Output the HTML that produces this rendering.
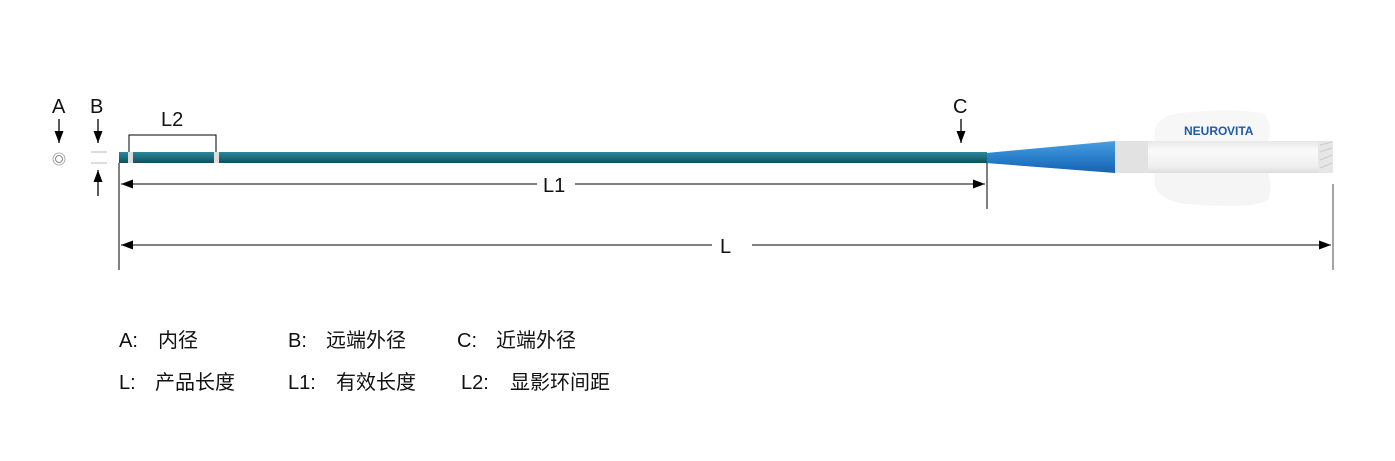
<!DOCTYPE html>
<html><head><meta charset="utf-8"><style>
body{margin:0;background:#fff;}
svg text{font-family:"Liberation Sans","Noto Sans CJK SC",sans-serif;fill:#111;}
</style></head><body>
<svg width="1395" height="456" viewBox="0 0 1395 456" xmlns="http://www.w3.org/2000/svg">
<defs>
<linearGradient id="sh" x1="0" y1="0" x2="0" y2="1">
<stop offset="0" stop-color="#2a8a9a"/><stop offset="0.4" stop-color="#1f7385"/><stop offset="1" stop-color="#0f4f5e"/></linearGradient>
<linearGradient id="bl" x1="0" y1="0" x2="0" y2="1">
<stop offset="0" stop-color="#4a9ee0"/><stop offset="0.5" stop-color="#2a80cc"/><stop offset="1" stop-color="#1a62b0"/></linearGradient>
<linearGradient id="wh" x1="0" y1="0" x2="0" y2="1">
<stop offset="0" stop-color="#e8e8e8"/><stop offset="0.3" stop-color="#fafafa"/><stop offset="0.8" stop-color="#f0f0f0"/><stop offset="1" stop-color="#dcdcdc"/></linearGradient>
<marker id="ar" markerWidth="12" markerHeight="9" refX="12" refY="4.5" orient="auto" markerUnits="userSpaceOnUse"><path d="M0,0 L12,4.5 L0,9 z" fill="#000"/></marker>
</defs>
<text x="52" y="113" font-size="20">A</text>
<text x="90" y="113" font-size="20">B</text>
<line x1="59" y1="119" x2="59" y2="143" stroke="#000" stroke-width="1.3" marker-end="url(#ar)"/>
<line x1="98" y1="119" x2="98" y2="143" stroke="#000" stroke-width="1.3" marker-end="url(#ar)"/>
<line x1="98" y1="196" x2="98" y2="170" stroke="#000" stroke-width="1.3" marker-end="url(#ar)"/>
<circle cx="59" cy="159" r="6" fill="none" stroke="#999" stroke-width="0.8"/>
<circle cx="59" cy="159" r="3.5" fill="none" stroke="#888" stroke-width="1"/>
<line x1="91" y1="152" x2="107" y2="152" stroke="#bbb"/>
<line x1="91" y1="163" x2="107" y2="163" stroke="#bbb"/>
<text x="161" y="126" font-size="20">L2</text>
<path d="M129,153 V135 H216 V153" fill="none" stroke="#000" stroke-width="1"/>
<path d="M1155,141 C1152,125 1160,116 1180,113 C1220,109 1255,110 1265,115 C1272,125 1270,135 1268,141 Z" fill="#f7f7f7"/>
<path d="M1155,173 C1152,190 1160,200 1185,204 C1225,207 1260,207 1268,200 C1272,190 1270,180 1268,173 Z" fill="#f5f5f5"/>
<rect x="1115" y="141" width="218" height="32" fill="url(#wh)"/>
<rect x="1115" y="141" width="33" height="32" fill="#e2e2e2"/>
<path d="M1318,141 L1333,141 L1333,173 L1318,173 Z" fill="#e6e6e6"/>
<path d="M1320,145 L1332,142 M1320,152 L1332,148 M1320,160 L1332,155 M1320,168 L1332,163" stroke="#ccc" stroke-width="1"/>
<text x="1184" y="135" font-size="12" font-weight="bold" style="fill:#1e5aa8">NEURO</text>
<text x="1227" y="135" font-size="12" font-weight="bold" style="fill:#1e5aa8">VITA</text>
<path d="M986,153 L1115,141 L1115,173 L986,163 Z" fill="url(#bl)"/>
<rect x="119" y="152" width="868" height="11" fill="url(#sh)"/>
<rect x="128" y="152" width="5" height="11" fill="#ddd"/>
<rect x="214" y="152" width="5" height="11" fill="#ddd"/>
<text x="953" y="113" font-size="20">C</text>
<line x1="961" y1="119" x2="961" y2="143" stroke="#000" stroke-width="1.3" marker-end="url(#ar)"/>
<line x1="119" y1="163" x2="119" y2="270" stroke="#000" stroke-width="1"/>
<line x1="987" y1="163" x2="987" y2="209" stroke="#000" stroke-width="1"/>
<line x1="1333" y1="184" x2="1333" y2="270" stroke="#666" stroke-width="1.2"/>
<line x1="537" y1="184" x2="121" y2="184" stroke="#000" stroke-width="1" marker-end="url(#ar)"/>
<line x1="575" y1="184" x2="985" y2="184" stroke="#000" stroke-width="1" marker-end="url(#ar)"/>
<text x="543" y="192" font-size="20">L1</text>
<line x1="712" y1="245" x2="121" y2="245" stroke="#000" stroke-width="1" marker-end="url(#ar)"/>
<line x1="752" y1="245" x2="1331" y2="245" stroke="#000" stroke-width="1" marker-end="url(#ar)"/>
<text x="720" y="253" font-size="20">L</text>
<g font-size="20">
<text x="119" y="347">A:</text><text x="158" y="347">内径</text>
<text x="288" y="347">B:</text><text x="326" y="347">远端外径</text>
<text x="457" y="347">C:</text><text x="496" y="347">近端外径</text>
<text x="119" y="389">L:</text><text x="155" y="389">产品长度</text>
<text x="288" y="389">L1:</text><text x="336" y="389">有效长度</text>
<text x="461" y="389">L2:</text><text x="510" y="389">显影环间距</text>
</g>
</svg>
</body></html>
